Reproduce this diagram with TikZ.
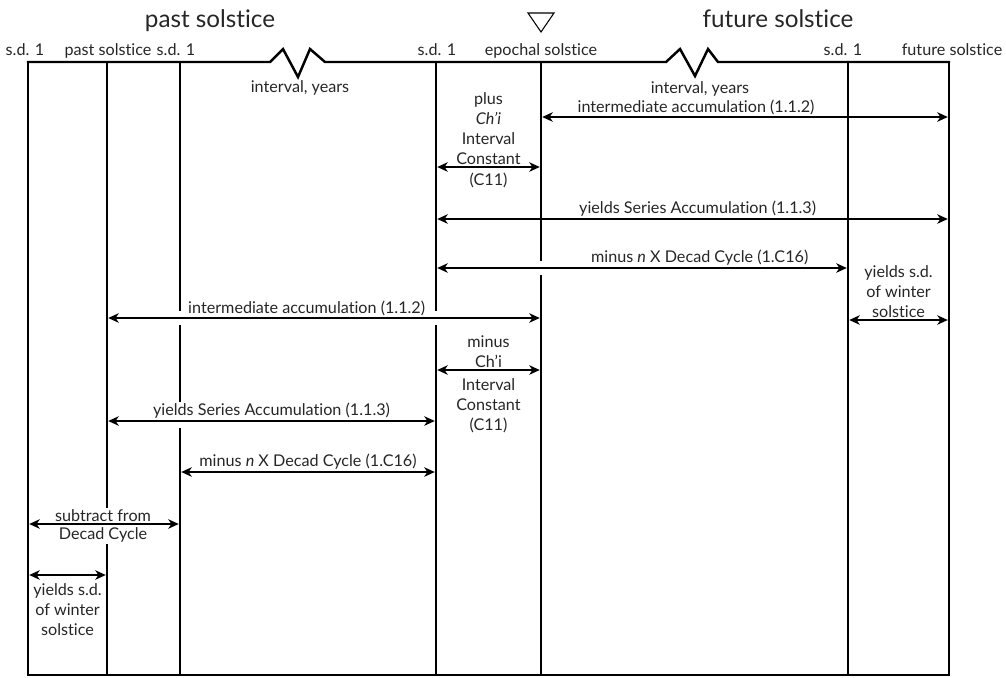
\documentclass[tikz,border=0pt]{standalone}
\usepackage{fontspec}
\setmainfont{Lato}[RawFeature={-liga;-dlig}]
\usetikzlibrary{arrows.meta}

\tikzset{
  rule/.style={line width=1.4pt, line cap=rect},
  span/.style={{Stealth[length=6pt, width=5.4pt, inset=1.8pt]}-{Stealth[length=6pt, width=5.4pt, inset=1.8pt]},
    line width=0.7pt, shorten <=0.7pt, shorten >=0.7pt},
  hop/.style={preaction={draw=white, line width=8pt, -, shorten <=5pt, shorten >=5pt}},
  lbl/.style={font=\fontsize{9.2}{11.4}\selectfont, align=center, inner sep=1pt, text=black!85},
  head/.style={font=\fontsize{9.2}{11}\selectfont, anchor=base, inner sep=0pt, text=black!85},
  title/.style={font=\fontsize{13.8}{16}\selectfont, anchor=base, inner sep=0pt, text=black!85},
}

\begin{document}
\begin{tikzpicture}[x=0.02cm, y=-0.02cm]
  \useasboundingbox (0,0) rectangle (1006,677);

  % solstice day lines
  \foreach \n/\x in {1/28, 2/107, 3/180, 4/436, 5/541, 6/848, 7/949} {
    \coordinate (v\n) at (\x,62);
    \coordinate (w\n) at (\x,675);
  }
  \draw[rule] (v1) -- (w1) -- (w7) -- (v7);
  \foreach \n in {2,...,6}
    \draw[rule] (v\n) -- (w\n);
  \draw[rule, line join=miter] (v1) -- (270,62) -- (283,49) -- (298,77) -- (310,49) -- (325,62)
    -- (666,62) -- (680,49) -- (695,76) -- (708,49) -- (718,62) -- (v7);

  % headings
  \node[title] (past) at (210,27) {past solstice};
  \node[title] (future) at (778,27) {future solstice};
  \draw[line width=0.6pt, line join=miter] (528,13) -- (554,13) -- (541,32) -- cycle;

  \node[head] (sdA) at (25,55) {s.d. 1};
  \node[head] (pastday) at (108,55) {past solstice};
  \node[head] (sdB) at (176,55) {s.d. 1};
  \node[head] (sdC) at (437,55) {s.d. 1};
  \node[head] (epoch) at (541,55) {epochal solstice};
  \node[head] (sdD) at (843,55) {s.d. 1};
  \node[head] (futureday) at (952,55) {future solstice};

  \node[lbl] (gapA) at (300,88) {interval, years};
  \node[lbl] (gapB) at (700,89) {interval, years};

  % forward count
  \draw[span] (v5 |- 0,117) -- node[lbl, above, pos=0.38] {intermediate accumulation (1.1.2)} (v7 |- 0,117);
  \draw[span] (v4 |- 0,167) -- node[lbl, above] {plus\\\textit{Ch’i}\\Interval\\Constant} node[lbl, below=2pt] {(C11)} (v5 |- 0,167);
  \draw[span] (v4 |- 0,219) -- node[lbl, above, pos=0.51] {yields Series Accumulation (1.1.3)} (v7 |- 0,219);
  \draw[span, hop] (v4 |- 0,268) -- node[lbl, above, pos=0.64] {minus \textit{n} X Decad Cycle (1.C16)} (v6 |- 0,268);
  \draw[span] (v6 |- 0,320) -- node[lbl, above] {yields s.d.\\of winter\\solstice} (v7 |- 0,320);

  % backward count
  \draw[span, hop] (v2 |- 0,318) -- node[lbl, above, pos=0.46] {intermediate accumulation (1.1.2)} (v5 |- 0,318);
  \draw[span] (v4 |- 0,370) -- node[lbl, above] {minus\\Ch’i} node[lbl, below=3.5pt] {Interval\\Constant\\(C11)} (v5 |- 0,370);
  \draw[span, hop] (v2 |- 0,421) -- node[lbl, above, fill=white] {yields Series Accumulation (1.1.3)} (v4 |- 0,421);
  \draw[span] (v3 |- 0,472) -- node[lbl, above] {minus \textit{n} X Decad Cycle (1.C16)} (v4 |- 0,472);
  \node[lbl, fill=white, font=\fontsize{9.2}{10.3}\selectfont] (sub) at (103,526) {subtract from\\Decad Cycle};
  \draw[span] (v1 |- 0,524) -- (v3 |- 0,524);
  \draw[span] (v1 |- 0,575) -- node[lbl, below=3.5pt] {yields s.d.\\of winter\\solstice} (v2 |- 0,575);
\end{tikzpicture}
\end{document}
